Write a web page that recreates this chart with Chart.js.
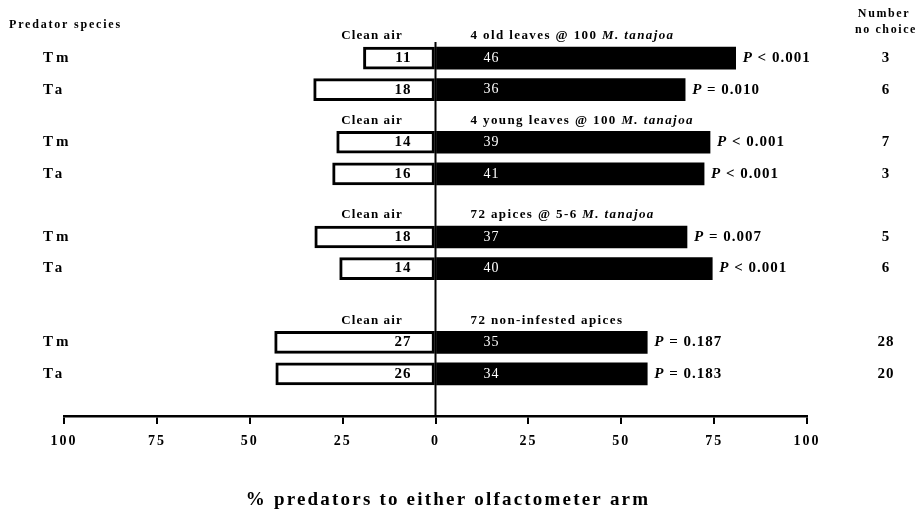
<!DOCTYPE html>
<html>
<head>
<meta charset="utf-8">
<script src="https://cdn.jsdelivr.net/npm/chart.js@4.4.1/dist/chart.umd.min.js"></script>
<style>
  body { margin: 0; background: #fff; }
</style>
</head>
<body>
<canvas id="OlfChart" width="924" height="513"></canvas>
<script>
const species = ['Tm', 'Ta', 'Tm', 'Ta', 'Tm', 'Ta', 'Tm', 'Ta'];
const treatments = ['4 old leaves @ 100 M. tanajoa', '4 young leaves @ 100 M. tanajoa',
  '72 apices @ 5-6 M. tanajoa', '72 non-infested apices'];
const cleanPct = [19.4, 32.8, 26.6, 27.7, 32.5, 25.8, 43.3, 43.0];
const odourPct = [80.8, 67.2, 73.9, 72.3, 67.7, 74.5, 57.0, 57.0];
const cleanN = [11, 18, 14, 16, 18, 14, 27, 26];
const odourN = [46, 36, 39, 41, 37, 40, 35, 34];
const pText = ['< 0.001', '= 0.010', '< 0.001', '< 0.001', '= 0.007', '< 0.001', '= 0.187', '= 0.183'];
const noChoice = [3, 6, 7, 3, 5, 6, 28, 20];

// layout: rows on a category axis, blank slots make the gaps between groups
const NSLOTS = 37;
const rowSlot = [2, 5, 10, 13, 19, 22, 29, 32];
const headSlot = [0, 8, 17, 27];

const SERIF = '"Liberation Serif", "Times New Roman", serif';

let labels = [];
let cleanData = [];
let odourData = [];
for (let i = 0; i < NSLOTS; i++) { labels.push('s' + i); cleanData.push(null); odourData.push(null); }
rowSlot.forEach(function (s, i) {
  cleanData[s] = -cleanPct[i];
  odourData[s] = odourPct[i];
});

function txt(ctx, s, x, y, font, align, color, spacing) {
  ctx.save();
  ctx.font = font;
  ctx.textAlign = align || 'left';
  ctx.textBaseline = 'middle';
  ctx.fillStyle = color || '#000';
  ctx.letterSpacing = (spacing || 0) + 'px';
  ctx.fillText(s, x, y);
  let w = ctx.measureText(s).width;
  ctx.restore();
  return w;
}

const annotate = {
  id: 'annotate',
  beforeDraw: function (chart) {
    chart.ctx.letterSpacing = '2px';
  },
  beforeDatasetsDraw: function (chart) {
    const ctx = chart.ctx;
    ctx.letterSpacing = '0px';
    const x0 = chart.scales.x.getPixelForValue(0);
    ctx.save();
    ctx.strokeStyle = '#000';
    ctx.lineWidth = 2;
    ctx.beginPath();
    ctx.moveTo(x0, chart.chartArea.top + 5);
    ctx.lineTo(x0, chart.chartArea.bottom);
    ctx.stroke();
    ctx.restore();
  },
  afterDatasetsDraw: function (chart) {
    const ctx = chart.ctx;
    const xs = chart.scales.x, ys = chart.scales.y;
    const x0 = xs.getPixelForValue(0);
    const odourMeta = chart.getDatasetMeta(1);

    txt(ctx, 'Predator species', 9, 25, 'bold 12px ' + SERIF, 'left', '#000', 1.8);
    txt(ctx, 'Number', 884, 14, 'bold 12px ' + SERIF, 'center', '#000', 1.6);
    txt(ctx, 'no choice', 886, 30, 'bold 12px ' + SERIF, 'center', '#000', 1.6);

    headSlot.forEach(function (s, g) {
      const y = ys.getPixelForValue(s) - 1;
      txt(ctx, 'Clean air', 372, y, 'bold 13px ' + SERIF, 'center', '#000', 1.1);
      const t = treatments[g];
      const k = t.indexOf('M. tanajoa');
      let x = x0 + 35;
      if (k >= 0) {
        x += txt(ctx, t.slice(0, k), x, y, 'bold 13px ' + SERIF, 'left', '#000', 1.4);
        txt(ctx, t.slice(k), x, y, 'italic bold 13px ' + SERIF, 'left', '#000', 1.4);
      } else {
        txt(ctx, t, x, y, 'bold 13px ' + SERIF, 'left', '#000', 1.4);
      }
    });

    rowSlot.forEach(function (s, i) {
      const y = ys.getPixelForValue(s);
      txt(ctx, species[i], 43, y, 'bold 15px ' + SERIF, 'left', '#000', 3);
      txt(ctx, String(cleanN[i]), x0 - 24, y, 'bold 15px ' + SERIF, 'right', '#000', 1);
      txt(ctx, String(odourN[i]), x0 + 48, y, '14px ' + SERIF, 'left', '#fff', 1);
      const end = odourMeta.data[s].x;
      let w = txt(ctx, 'P', end + 7, y, 'italic bold 15px ' + SERIF, 'left', '#000', 1);
      txt(ctx, ' ' + pText[i], end + 7 + w, y, 'bold 15px ' + SERIF, 'left', '#000', 1);
      txt(ctx, String(noChoice[i]), 886, y, 'bold 15px ' + SERIF, 'center', '#000', 1);
    });

    txt(ctx, '% predators to either olfactometer arm', 448, 500, 'bold 19px ' + SERIF, 'center', '#000', 2.2);
  }
};

new Chart(document.getElementById('OlfChart'), {
  type: 'bar',
  data: {
    labels: labels,
    datasets: [{
      label: 'Clean air',
      data: cleanData,
      backgroundColor: '#fff',
      borderColor: '#000',
      borderWidth: 3,
      borderSkipped: false,
      barThickness: 22
    }, {
      label: 'Odour',
      data: odourData,
      backgroundColor: '#000',
      borderWidth: 0,
      barThickness: 22
    }]
  },
  plugins: [annotate],
  options: {
    indexAxis: 'y',
    responsive: false,
    animation: false,
    layout: { padding: { left: 64, right: 117, top: 37, bottom: 0 } },
    plugins: { legend: { display: false }, tooltip: { enabled: false } },
    scales: {
      x: {
        stacked: true,
        min: -100,
        max: 100,
        afterFit: function (scale) { scale.height = 97; },
        ticks: {
          stepSize: 25,
          padding: 9,
          color: '#000',
          font: { family: SERIF, size: 14, weight: 'bold' },
          callback: function (v) { return Math.abs(v); }
        },
        grid: { drawOnChartArea: false, drawTicks: true, tickLength: 8, color: '#000', lineWidth: 2 },
        border: { display: true, color: '#000', width: 2.5 }
      },
      y: {
        stacked: true,
        display: false,
        offset: false
      }
    }
  }
});
</script>
</body>
</html>
